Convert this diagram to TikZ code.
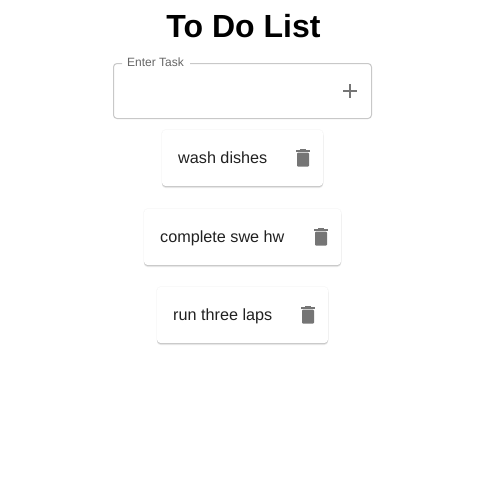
\documentclass[tikz,border=0pt]{standalone}
\usepackage{fontspec}
\setmainfont{Liberation Sans}
\usetikzlibrary{shadows}
\definecolor{ic}{HTML}{757575}
\definecolor{bd}{HTML}{C8C8C8}
\definecolor{lb}{HTML}{666666}
\tikzset{
 card/.style={fill=white,draw=none,rounded corners=3.5pt,inner sep=0pt,minimum height=56pt,
  general shadow={shadow xshift=0pt,shadow yshift=-2pt,opacity=0.08,fill=black},
  general shadow={shadow xshift=0pt,shadow yshift=-1pt,opacity=0.14,fill=black},
  general shadow={shadow xshift=0pt,shadow yshift=0pt,opacity=0.025,fill=black,draw=black,line width=1.6pt}},
 tasklabel/.style={inner sep=0pt,anchor=base west,text=black!87,font=\fontsize{16.2}{19}\selectfont},
 trash/.pic={
  \fill[ic,rounded corners=1pt] (-6,-5.5) rectangle (6,8.7);
  \fill[ic] (-7,-8) rectangle (7,-6.2);
  \fill[ic] (-2.8,-9) rectangle (2.8,-7.5);
 }
}
\begin{document}
\begin{tikzpicture}[x=1pt,y=-1pt]
\useasboundingbox (0,0) rectangle (478,483);
\fill[white] (0,0) rectangle (478,483);
\node[inner sep=0pt,anchor=base,font=\bfseries\fontsize{32}{38}\selectfont] (title) at (243.5,37.5) {To Do List};
% outlined text field
\draw[bd,line width=1pt,rounded corners=3.5pt] (122,63.5) -- (113.5,63.5) -- (113.5,118.5) -- (371.5,118.5) -- (371.5,63.5) -- (190,63.5);
\node[inner sep=0pt,anchor=base west,text=lb,font=\fontsize{12}{14}\selectfont] (enter) at (127,66.5) {Enter Task};
\draw[ic,line width=2pt] (343,91) -- (357,91) (350,84) -- (350,98);
% cards
\node[card,minimum width=161pt] (c1) at (242.5,158) {};
\node[card,minimum width=197pt] (c2) at (242.5,237) {};
\node[card,minimum width=171pt] (c3) at (242.5,315) {};
\node[tasklabel] (t1) at (178,163) {wash dishes};
\node[tasklabel] (t2) at (160,242) {complete swe hw};
\node[tasklabel] (t3) at (173,320) {run three laps};
\pic at (303,158) {trash};
\pic at (321,237) {trash};
\pic at (308,315) {trash};
\end{tikzpicture}
\end{document}
